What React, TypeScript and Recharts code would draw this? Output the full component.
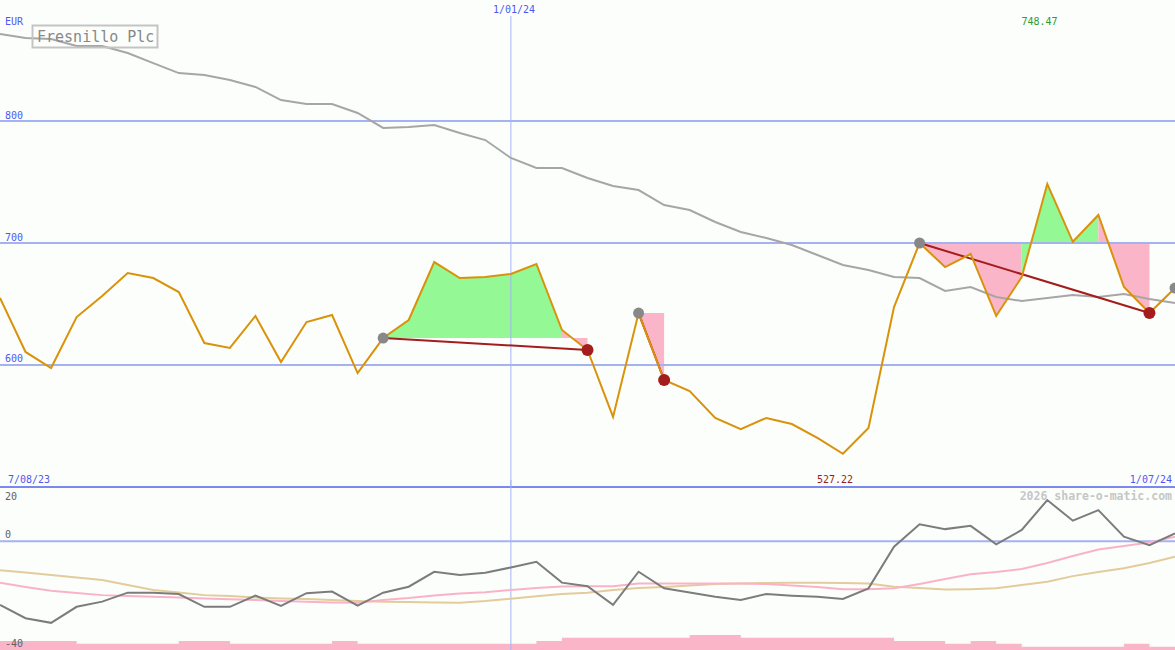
import React from 'react';
import { ComposedChart, Line, Area, XAxis, YAxis, ReferenceLine } from 'recharts';

// Weekly closes (EUR), index 0 = first week on the chart
const price = [654.9, 610.7, 597.5, 639.3, 656.6, 675.4, 671.3, 659.8, 618.0, 614.0, 640.2, 602.5, 635.2, 641.0, 593.4, 622.1, 636.9, 684.4, 671.3, 672.1, 674.6, 682.8, 628.7, 612.3, 557.4, 642.6, 587.7, 578.7, 556.6, 547.5, 556.6, 551.6, 540.2, 527.22, 548.4, 647.5, 700.0, 680.3, 691.0, 640.2, 672.1, 748.47, 701.0, 723.0, 664.0, 642.6, 663.1];
// Long moving average
const average = [871.3, 868.0, 867.2, 861.5, 861.5, 855.7, 847.5, 839.3, 837.7, 833.6, 827.9, 817.2, 813.9, 813.9, 806.6, 794.3, 795.1, 796.7, 790.2, 784.4, 769.7, 761.5, 761.5, 753.3, 746.7, 743.4, 731.1, 727.0, 717.2, 709.0, 704.1, 698.4, 690.2, 682.0, 677.9, 672.1, 671.3, 660.7, 663.9, 655.7, 652.5, 654.9, 657.4, 655.7, 658.2, 654.1, 650.8];
// Lower panel oscillators
const momentum = [-23.4, -28.3, -30.0, -24.1, -22.2, -18.9, -18.9, -19.4, -24.1, -24.1, -20.0, -23.8, -19.1, -18.5, -23.7, -18.9, -16.7, -11.2, -12.4, -11.6, -9.6, -7.5, -15.2, -16.5, -23.4, -11.2, -17.3, -18.8, -20.4, -21.6, -19.4, -20.0, -20.4, -21.2, -17.3, -2.0, 6.3, 4.5, 5.7, -1.1, 4.2, 15.2, 7.6, 11.5, 1.7, -1.4, 2.9];
const fastSignal = [-15.2, -16.8, -18.2, -19.0, -19.8, -20.1, -20.4, -20.7, -21.0, -21.3, -21.6, -22.0, -22.2, -22.5, -22.6, -21.6, -20.9, -19.9, -19.2, -18.7, -17.9, -17.2, -16.6, -16.5, -16.5, -15.5, -15.5, -15.5, -15.5, -15.5, -15.7, -16.3, -16.8, -17.6, -17.6, -17.3, -15.7, -13.9, -12.1, -11.3, -10.2, -8.0, -5.4, -3.0, -1.7, -0.4, 1.7];
const slowSignal = [-10.6, -11.5, -12.4, -13.3, -14.2, -16.1, -17.9, -18.8, -19.8, -20.1, -20.7, -21.0, -21.2, -21.6, -22.0, -22.2, -22.3, -22.5, -22.6, -22.0, -21.1, -20.2, -19.4, -18.9, -17.9, -17.2, -16.8, -16.3, -15.7, -15.5, -15.3, -15.2, -15.2, -15.3, -15.5, -16.7, -17.2, -17.7, -17.6, -17.3, -16.1, -14.9, -12.8, -11.3, -9.9, -8.0, -5.7];
const volume = [3, 3, 3, 2.1, 2.1, 2.1, 2.1, 3, 3, 2.1, 2.1, 2.1, 2.1, 3, 2.1, 2.1, 2.1, 2.1, 2.1, 2.1, 2.1, 3, 4.1, 4.1, 4.1, 4.1, 4.1, 5, 5, 4.1, 4.1, 4.1, 4.1, 4.1, 4.1, 3, 3, 2.1, 3, 2.1, 1.1, 1.1, 1.1, 1.1, 2.1, 1.1, 1.1];

// Signal ranges (start index -> end index)
const rangeStart = [15, 25, 36, 46];
const rangeEnd = [23, 26, 45];

const priceTicks = [600, 700, 800];
const oscTicks = [20, 0, -40];
const dateLabels = ['7/08/23', '1/01/24', '1/07/24'];
const midDateIndex = 20;
const title = 'Fresnillo Plc';
const currency = 'EUR';
const watermark = '2026 share-o-matic.com';

const W = 1175;
const TOP_H = 487;
const LOW_TOP = 480;
const LOW_H = 170;

type Row = { [k: string]: any };

const rows: Row[] = price.map((p, i) => ({
  i,
  price: p,
  average: average[i],
  green: null,
  pink: null,
  start: null,
  end: null,
  momentum: momentum[i],
  fast: fastSignal[i],
  slow: slowSignal[i],
  volume: volume[i],
}));

rangeEnd.forEach((e, r) => {
  const s = rangeStart[r];
  const level = price[s];
  for (let k = s; k < e; k++) {
    const key = price[k + 1] >= level ? 'green' : 'pink';
    rows[k][key] = [level, price[k]];
    rows[k + 1][key] = [level, price[k + 1]];
  }
  rows[s]['t' + r] = price[s];
  rows[e]['t' + r] = price[e];
});
rangeStart.forEach((s) => (rows[s].start = price[s]));
rangeEnd.forEach((e) => (rows[e].end = price[e]));

const maxIdx = price.indexOf(Math.max(...price));
const minIdx = price.indexOf(Math.min(...price));

const BLUE_TEXT = '#5058f2';
const GRID = '#a4b2f2';
const MONO = '"DejaVu Sans Mono", "Liberation Mono", monospace';

export default function App() {
  return (
    <div style={{ position: 'absolute', left: 0, top: 0, width: W, height: 650, background: '#fcfefc', overflow: 'hidden' }}>
      <div style={{ position: 'absolute', left: 0, top: 0 }}>
        <ComposedChart width={W} height={TOP_H} data={rows} margin={{ top: 0, right: 0, bottom: 0, left: 0 }}>
          <XAxis type="number" dataKey="i" domain={[0, 46]} hide />
          <YAxis type="number" domain={[500, 899.2]} hide allowDataOverflow />
          {priceTicks.map((t) => (
            <ReferenceLine key={t} y={t} stroke={GRID} strokeWidth={2} />
          ))}
          <ReferenceLine segment={[{ x: midDateIndex, y: 886 }, { x: midDateIndex, y: 500 }]} stroke={GRID} strokeWidth={1} />
          <Area type="linear" dataKey="green" fill="#94f994" fillOpacity={1} stroke="none" isAnimationActive={false} activeDot={false} />
          <Area type="linear" dataKey="pink" fill="#fbb5c9" fillOpacity={1} stroke="none" isAnimationActive={false} activeDot={false} />
          <Line type="linear" dataKey="average" stroke="#a6a6a6" strokeWidth={2} dot={false} activeDot={false} isAnimationActive={false} />
          {rangeEnd.map((_, r) => (
            <Line key={r} type="linear" dataKey={'t' + r} connectNulls stroke="#a31d1d" strokeWidth={2} dot={false} activeDot={false} isAnimationActive={false} />
          ))}
          <Line type="linear" dataKey="start" stroke="none" dot={{ r: 5.5, fill: '#888888', stroke: 'none' }} activeDot={false} isAnimationActive={false} />
          <Line type="linear" dataKey="end" stroke="none" dot={{ r: 6, fill: '#a41c1c', stroke: 'none' }} activeDot={false} isAnimationActive={false} />
          <Line type="linear" dataKey="price" stroke="#d9920a" strokeWidth={2} dot={false} activeDot={false} isAnimationActive={false} />
        </ComposedChart>
      </div>
      <div style={{ position: 'absolute', left: 0, top: LOW_TOP }}>
        <ComposedChart width={W} height={LOW_H} data={rows} margin={{ top: 0, right: 0, bottom: 0, left: 0 }}>
          <XAxis type="number" dataKey="i" domain={[0, 46]} hide />
          <YAxis yAxisId="osc" type="number" domain={[-40, 22.58]} hide allowDataOverflow />
          <YAxis yAxisId="vol" type="number" domain={[0, 56.7]} hide allowDataOverflow />
          <Area yAxisId="vol" type="stepAfter" dataKey="volume" fill="#fbb5c9" fillOpacity={1} stroke="none" isAnimationActive={false} activeDot={false} />
          <ReferenceLine yAxisId="osc" y={0} stroke={GRID} strokeWidth={2} />
          <ReferenceLine yAxisId="osc" y={20} stroke="#7b88ee" strokeWidth={2} />
          <ReferenceLine yAxisId="osc" x={midDateIndex} stroke={GRID} strokeWidth={1} />
          <Line yAxisId="osc" type="linear" dataKey="slow" stroke="#e3cc9b" strokeWidth={2} dot={false} activeDot={false} isAnimationActive={false} />
          <Line yAxisId="osc" type="linear" dataKey="fast" stroke="#f9b3c8" strokeWidth={2} dot={false} activeDot={false} isAnimationActive={false} />
          <Line yAxisId="osc" type="linear" dataKey="momentum" stroke="#7c7c7c" strokeWidth={2} dot={false} activeDot={false} isAnimationActive={false} />
        </ComposedChart>
      </div>
      <svg width={W} height={650} style={{ position: 'absolute', left: 0, top: 0, pointerEvents: 'none' }} fontFamily={MONO}>
        <rect x={32.5} y={25.5} width={125} height={22} fill="none" stroke="#c4c4c4" strokeWidth={2} />
        <text x={37} y={42} fontSize={15} fill="#888888">{title}</text>
        <text x={5} y={25} fontSize={10} fill={BLUE_TEXT}>{currency}</text>
        <text x={5} y={119} fontSize={10} fill={BLUE_TEXT}>{priceTicks[2]}</text>
        <text x={5} y={241} fontSize={10} fill={BLUE_TEXT}>{priceTicks[1]}</text>
        <text x={5} y={362} fontSize={10} fill={BLUE_TEXT}>{priceTicks[0]}</text>
        <text x={514} y={13} fontSize={10} fill={BLUE_TEXT} textAnchor="middle">{dateLabels[1]}</text>
        <text x={1039.5} y={25} fontSize={10} fill="#2f9a2f" textAnchor="middle">{price[maxIdx].toFixed(2)}</text>
        <text x={8} y={483} fontSize={10} fill={BLUE_TEXT}>{dateLabels[0]}</text>
        <text x={835} y={483} fontSize={10} fill="#a01a1a" textAnchor="middle">{price[minIdx].toFixed(2)}</text>
        <text x={1172} y={483} fontSize={10} fill={BLUE_TEXT} textAnchor="end">{dateLabels[2]}</text>
        <text x={5} y={500} fontSize={10} fill="#606060">{oscTicks[0]}</text>
        <text x={5} y={538} fontSize={10} fill="#606060">{oscTicks[1]}</text>
        <text x={5} y={647} fontSize={10} fill="#606060">{oscTicks[2]}</text>
        <text x={1172} y={500} fontSize={11.5} fontWeight="bold" fill="#c6c6c6" textAnchor="end">{watermark}</text>
      </svg>
    </div>
  );
}
